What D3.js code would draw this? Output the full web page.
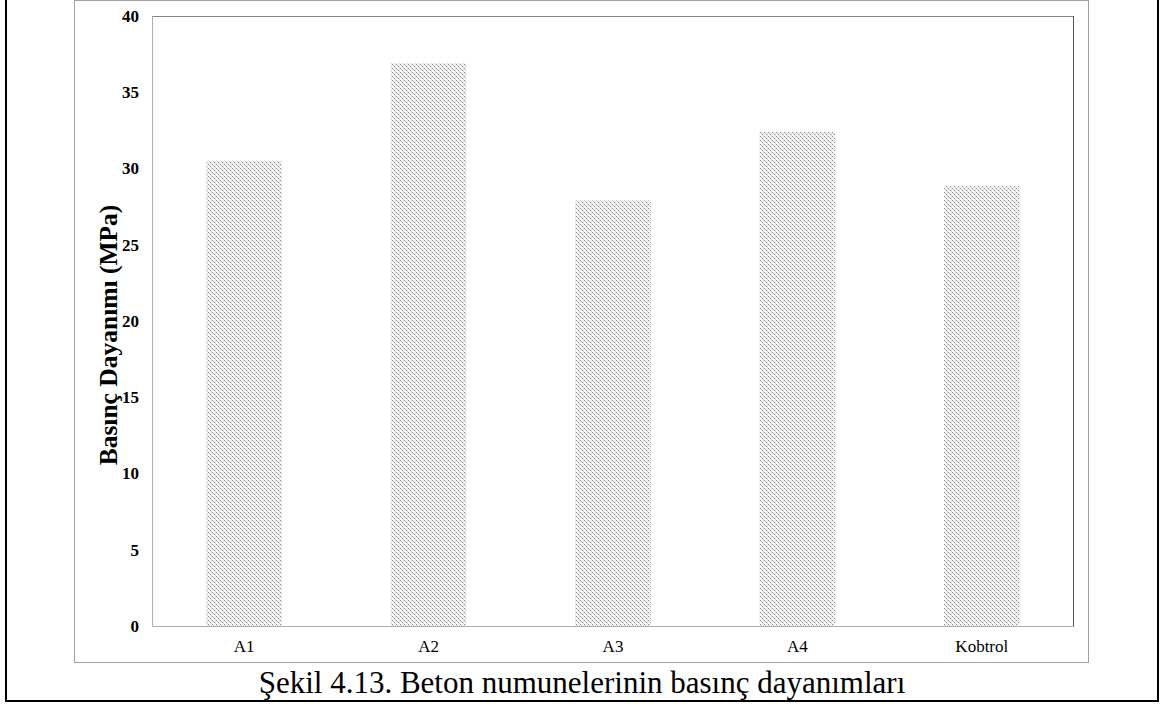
<!DOCTYPE html>
<html><head><meta charset="utf-8">
<script src="https://cdn.jsdelivr.net/npm/d3@7"></script>
<style>body{margin:0;background:#fff}svg{display:block}</style>
</head><body>
<script>
const categories = ["A1", "A2", "A3", "A4", "Kobtrol"];
const values = [30.5, 36.9, 27.9, 32.4, 28.85];
const yTicks = [0, 5, 10, 15, 20, 25, 30, 35, 40];
const yTitle = "Basınç Dayanımı (MPa)";
const caption = "Şekil 4.13. Beton numunelerinin basınç dayanımları";

const W = 1164, H = 706;
const FONT = "'Liberation Serif','Times New Roman',serif";
const svg = d3.select("body").append("svg").attr("width", W).attr("height", H);

const defs = svg.append("defs");
const pat = defs.append("pattern").attr("id", "dots").attr("patternUnits", "userSpaceOnUse")
  .attr("width", 4).attr("height", 4);
pat.append("rect").attr("width", 4).attr("height", 4).attr("fill", "#f4f4f4");
[[0,0,"#8a8a8a"],[2,2,"#8a8a8a"],[1,1,"#cfcfcf"],[3,3,"#cfcfcf"],[3,1,"#e0e0e0"]].forEach(([x,y,c]) =>
  pat.append("rect").attr("x", x).attr("y", y).attr("width", 1).attr("height", 1).attr("fill", c));

// outer black border
svg.append("rect").attr("x", 6).attr("y", -2).attr("width", 1152).attr("height", 703)
  .attr("fill", "none").attr("stroke", "#000").attr("stroke-width", 2);
// chart frame
svg.append("rect").attr("x", 74.5).attr("y", 0.5).attr("width", 1014).attr("height", 662)
  .attr("fill", "#fff").attr("stroke", "#a0a0a0").attr("stroke-width", 1);

const L = 152, R = 1074, T = 16, B = 626;
const x = d3.scaleBand().domain(categories).range([L, R]).paddingInner(0.59).paddingOuter(0.295);
const y = d3.scaleLinear().domain([0, 40]).range([B, T]);

// plot frame
svg.append("line").attr("x1", L).attr("x2", R).attr("y1", T + 0.5).attr("y2", T + 0.5).attr("stroke", "#888");
svg.append("line").attr("x1", R - 0.5).attr("x2", R - 0.5).attr("y1", T).attr("y2", B).attr("stroke", "#555");

svg.append("g").selectAll("rect").data(categories).join("rect")
  .attr("x", d => x(d)).attr("width", x.bandwidth())
  .attr("y", (d, i) => y(values[i])).attr("height", (d, i) => B - y(values[i]))
  .attr("fill", "url(#dots)");

const yAxis = svg.append("g").attr("transform", `translate(${L},0)`)
  .call(d3.axisLeft(y).tickValues(yTicks).tickSize(0).tickPadding(13).tickFormat(d3.format("d")));
yAxis.select(".domain").attr("stroke", "#b0b0b0");
yAxis.selectAll("text").attr("font-family", FONT)
  .attr("font-size", 17).attr("font-weight", "bold").attr("fill", "#000");

const xAxis = svg.append("g").attr("transform", `translate(0,${B})`)
  .call(d3.axisBottom(x).tickSize(0).tickPadding(14));
xAxis.select(".domain").attr("stroke", "#b0b0b0");
xAxis.selectAll("text").attr("font-family", FONT)
  .attr("font-size", 17).attr("fill", "#000");

svg.append("text").attr("transform", "translate(117,335) rotate(-90)")
  .attr("text-anchor", "middle").attr("font-family", FONT)
  .attr("font-size", 25.5).attr("font-weight", "bold").text(yTitle);

svg.append("text").attr("x", 582).attr("y", 693).attr("text-anchor", "middle")
  .attr("font-family", FONT).attr("font-size", 31)
  .text(caption);
</script>
</body></html>
